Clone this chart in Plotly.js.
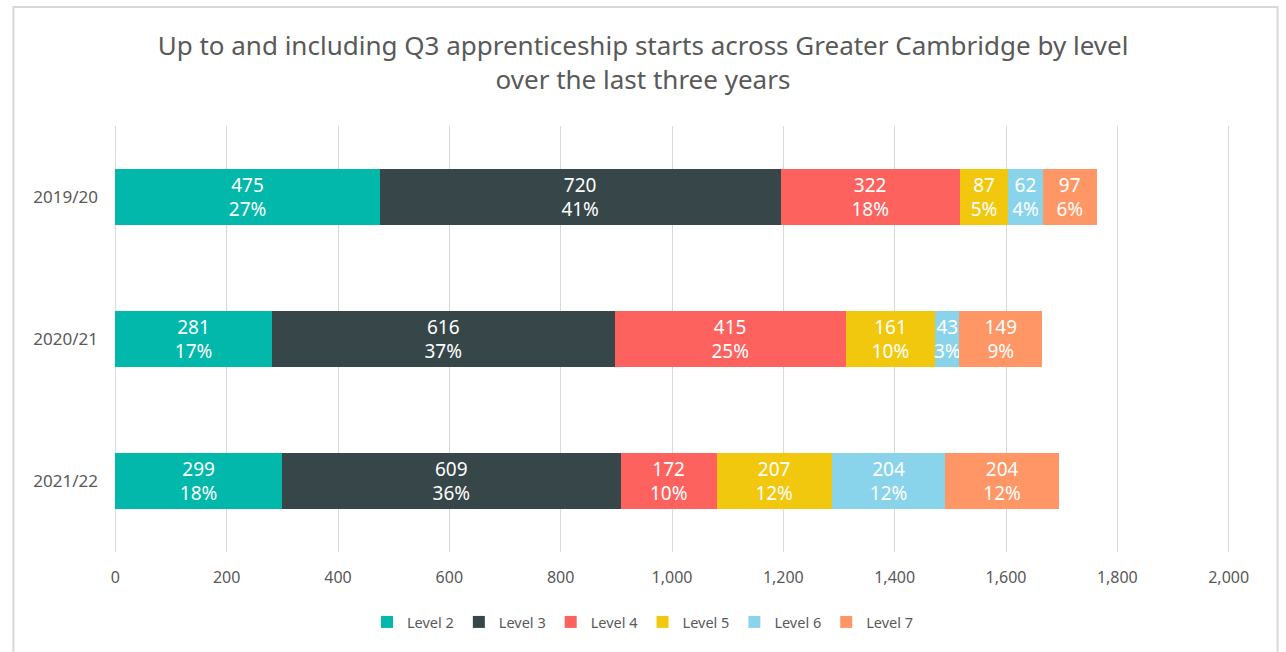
<!DOCTYPE html>
<html>
<head>
<meta charset="utf-8">
<script src="https://cdn.plot.ly/plotly-3.0.1.min.js"></script>
<style>html,body{margin:0;padding:0;background:#fff;}#chart{width:1286px;height:652px;}</style>
</head>
<body>
<div id="chart"></div>
<script>
const years = ["2019/20", "2020/21", "2021/22"];
const levels = ["Level 2", "Level 3", "Level 4", "Level 5", "Level 6", "Level 7"];
const level2 = [475, 281, 299];
const level3 = [720, 616, 609];
const level4 = [322, 415, 172];
const level5 = [87, 161, 207];
const level6 = [62, 43, 204];
const level7 = [97, 149, 204];
const pct2 = ["27%", "17%", "18%"];
const pct3 = ["41%", "37%", "36%"];
const pct4 = ["18%", "25%", "10%"];
const pct5 = ["5%", "10%", "12%"];
const pct6 = ["4%", "3%", "12%"];
const pct7 = ["6%", "9%", "12%"];
const xTicks = [0, 200, 400, 600, 800, 1000, 1200, 1400, 1600, 1800, 2000];
const xTickLabels = ["0", "200", "400", "600", "800", "1,000", "1,200", "1,400", "1,600", "1,800", "2,000"];

const values = [level2, level3, level4, level5, level6, level7];
const pcts = [pct2, pct3, pct4, pct5, pct6, pct7];
const colors = ["#01B8AA", "#374649", "#FD625E", "#F2C80F", "#8AD4EB", "#FE9666"];
const FONT = "Noto Sans, Open Sans, sans-serif";

const traces = levels.map((name, i) => ({
  type: "bar",
  orientation: "h",
  name: name,
  y: years,
  x: values[i],
  text: values[i].map((v, j) => v + "<br>" + pcts[i][j]),
  texttemplate: "%{text}",
  textposition: "inside",
  insidetextanchor: "middle",
  textangle: 0,
  constraintext: "none",
  cliponaxis: false,
  textfont: {family: FONT, size: 19, color: "#ffffff"},
  marker: {color: colors[i], line: {width: 0}},
  hoverinfo: "x+name"
}));

// pixel frame of the plotting area (0 -> 115px, 2000 -> 1229px)
const X0PX = 115, X2000PX = 1229, T = 126, B = 552;
const PAD = 6; // data units of padding so edge gridlines are drawn
const k = (X2000PX - X0PX) / 2000;
const L = X0PX - PAD * k, R = X2000PX + PAD * k;
const pw = R - L, ph = B - T;
const px = v => (v - L) / pw;
const py = v => (B - v) / ph;

const layout = {
  width: 1286, height: 652,
  margin: {l: L, r: 1286 - R, t: T, b: 652 - B},
  paper_bgcolor: "#ffffff",
  plot_bgcolor: "#ffffff",
  barmode: "stack",
  bargap: 0.61,
  title: {
    text: "Up to and including Q3 apprenticeship starts across Greater Cambridge by level<br>over the last three years",
    font: {family: FONT, size: 26, color: "#595959"},
    x: 0.5, xref: "container", xanchor: "center",
    y: 0.915, yref: "container", yanchor: "top"
  },
  xaxis: {
    range: [-PAD, 2000 + PAD],
    tickvals: xTicks,
    ticktext: xTickLabels,
    showgrid: true,
    gridcolor: "#d9d9d9",
    gridwidth: 1,
    zeroline: false,
    showline: false,
    ticks: "",
    ticklabelstandoff: 14,
    tickfont: {family: FONT, size: 16, color: "#595959"}
  },
  yaxis: {
    autorange: "reversed",
    showgrid: false,
    zeroline: false,
    showline: false,
    ticks: "",
    ticklabelstandoff: 13,
    tickfont: {family: FONT, size: 17, color: "#595959"}
  },
  legend: {
    orientation: "h",
    x: 0.5, xanchor: "center", xref: "container",
    y: 0.046, yanchor: "middle", yref: "container",
    font: {family: FONT, size: 14.5, color: "#595959"},
    itemsizing: "constant",
    itemwidth: 30,
    traceorder: "normal"
  },
  shapes: [{
    type: "rect", xref: "paper", yref: "paper",
    x0: px(13), x1: px(1278), y0: py(700), y1: py(7),
    line: {color: "#d9d9d9", width: 2},
    fillcolor: "rgba(0,0,0,0)",
    layer: "below"
  }],
  showlegend: true
};

Plotly.newPlot("chart", traces, layout, {displayModeBar: false, staticPlot: true});
</script>
</body>
</html>
